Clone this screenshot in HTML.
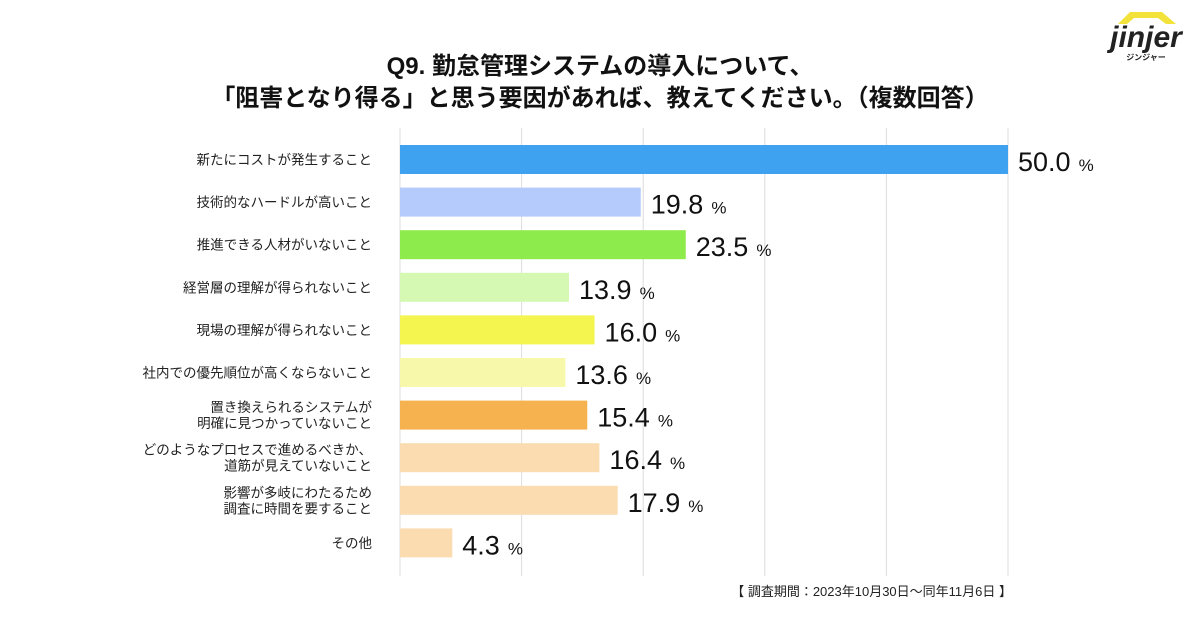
<!DOCTYPE html>
<html><head><meta charset="utf-8">
<style>
body{margin:0;width:1200px;height:630px;background:#fff;overflow:hidden;font-family:"Liberation Sans","Noto Sans CJK JP",sans-serif;}
svg text{font-family:"Liberation Sans","Noto Sans CJK JP",sans-serif;}
</style></head><body>
<svg id="chart" width="1200" height="630" xmlns="http://www.w3.org/2000/svg">
<text x="600" y="74" text-anchor="middle" font-size="24" font-weight="bold" fill="#111">Q9. 勤怠管理システムの導入について、</text>
<text x="600" y="106" text-anchor="middle" font-size="24" font-weight="bold" fill="#111">「阻害となり得る」と思う要因があれば、教えてください。（複数回答）</text>
<g>
<path d="M1118 24 L1130 12 L1162 12 L1176 24 L1166 24 L1158 18 L1134 18 L1127 24 Z" fill="#f2e23a"/>
<text x="1146" y="47" text-anchor="middle" font-size="30" font-weight="bold" font-style="italic" fill="#222">jinjer</text>
<text x="1146" y="60" text-anchor="middle" font-size="8" font-weight="bold" fill="#222">ジンジャー</text>
</g>
<g id="grid"></g>
<g id="bars"></g>
<text x="1012" y="596" text-anchor="end" font-size="13" fill="#222">【 調査期間：2023年10月30日〜同年11月6日 】</text>
</svg>
<script>
const categories=[["新たにコストが発生すること"],["技術的なハードルが高いこと"],["推進できる人材がいないこと"],["経営層の理解が得られないこと"],["現場の理解が得られないこと"],["社内での優先順位が高くならないこと"],["置き換えられるシステムが","明確に見つかっていないこと"],["どのようなプロセスで進めるべきか、","道筋が見えていないこと"],["影響が多岐にわたるため","調査に時間を要すること"],["その他"]];
const values=[50.0,19.8,23.5,13.9,16.0,13.6,15.4,16.4,17.9,4.3];
const colors=["#3fa2f0","#b4cbfb","#8deb4c","#d5f8b2","#f4f54f","#f8f8aa","#f6b24f","#fbdcb1","#fbdcb1","#fbdcb1"];
const ticks=[0,10,20,30,40,50];
const NS="http://www.w3.org/2000/svg";
const x=v=>400+v*12.16;
const y=i=>145+i*42.6;
function mk(t,a,p){const e=document.createElementNS(NS,t);for(const k in a)e.setAttribute(k,a[k]);p.appendChild(e);return e;}
const grid=document.getElementById('grid'),bars=document.getElementById('bars');
ticks.forEach(t=>{const l=mk('line',{x1:x(t),x2:x(t),y1:128,y2:576,stroke:'#dcdcdc','stroke-width':1},grid);

});
values.forEach((v,i)=>{
const r=mk('rect',{x:400,y:y(i),width:x(v)-400,height:29,fill:colors[i]},bars);


const t=mk('text',{x:x(v)+10,y:y(i)+26,'font-size':27,fill:'#111','font-weight':'500'},bars);


t.textContent=v.toFixed(1);
const p=mk('tspan',{'font-size':17,dx:8},t);p.textContent='%';
const lines=categories[i];
const c=mk('text',{x:372,'text-anchor':'end','font-size':13.5,fill:'#222'},bars);


lines.forEach((s,j)=>{const ts=mk('tspan',{x:372,y:y(i)+14.5+5+(j-(lines.length-1)/2)*16},c);ts.textContent=s;});
});
</script>
</body></html>
